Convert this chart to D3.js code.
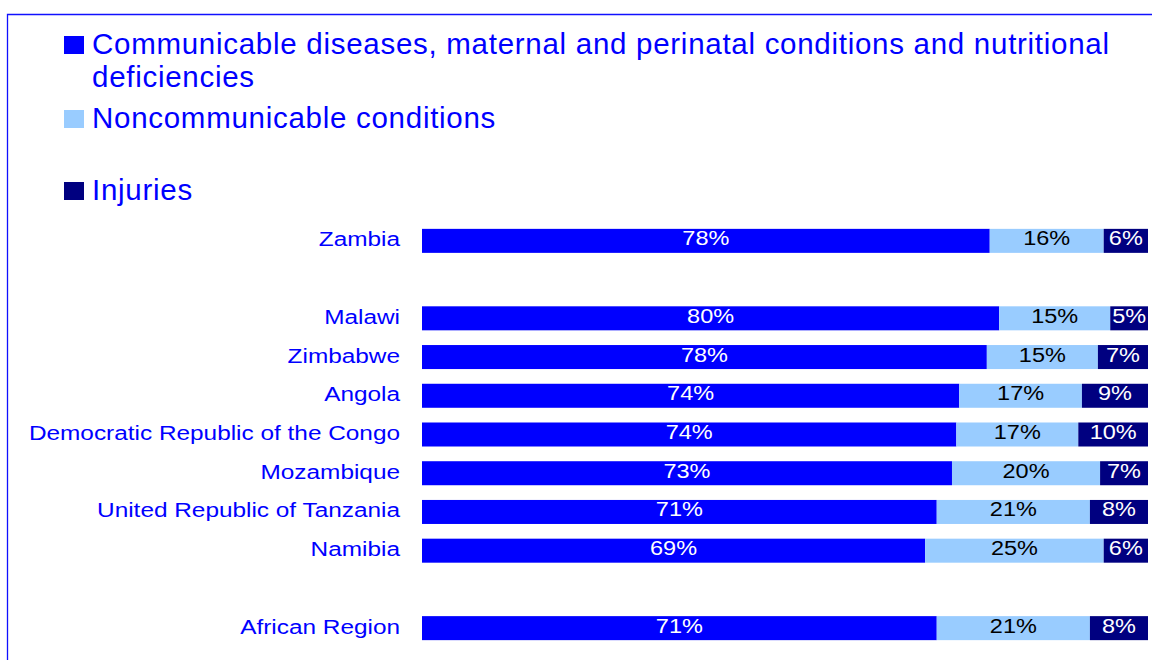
<!DOCTYPE html>
<html>
<head>
<meta charset="utf-8">
<script src="https://cdn.jsdelivr.net/npm/d3@7"></script>
<style>
  html, body { margin: 0; padding: 0; background: #fff; }
  svg { display: block; font-family: "Liberation Sans", Arial, sans-serif; }
</style>
</head>
<body>
<div id="chart"></div>
<script>
// rows of the chart, null = empty gap row
const categories = ["Zambia", null, "Malawi", "Zimbabwe", "Angola",
  "Democratic Republic of the Congo", "Mozambique", "United Republic of Tanzania",
  "Namibia", null, "African Region"];

// share of deaths (%) per cause
const communicable    = [78.2, null, 79.5, 77.8, 74.0, 73.6, 73.0, 70.9, 69.3, null, 70.9];
const noncommunicable = [15.7, null, 15.3, 15.3, 16.9, 16.8, 20.4, 21.1, 24.6, null, 21.1];
const injuries        = [6.1,  null, 5.2,  6.9,  9.1,  9.6,  6.6,  8.0,  6.1,  null, 8.0];

const legendLines = [
  ["Communicable diseases, maternal and perinatal conditions and nutritional", "deficiencies"],
  ["Noncommunicable conditions"],
  ["Injuries"]
];

const WIDTH = 1152, HEIGHT = 660;
const COLORS = ["#0000FF", "#99CCFF", "#000080"];
const LABEL_COLORS = ["#FFFFFF", "#000000", "#FFFFFF"];
const TEXT_BLUE = "#0000FF";

const svg = d3.select("#chart").append("svg")
  .attr("width", WIDTH)
  .attr("height", HEIGHT);

// frame (top and left edge visible)
svg.append("path")
  .attr("d", "M7.5,660V14.5H1152")
  .attr("fill", "none")
  .attr("stroke", "#1010FF")
  .attr("stroke-width", 1.3);

// Legend
const legendY = [36, 110, 182];
const legend = svg.append("g");
legendLines.forEach((lines, i) => {
  legend.append("rect")
    .attr("x", 64).attr("y", legendY[i])
    .attr("width", 20).attr("height", 18)
    .attr("fill", COLORS[i]);
  const t = legend.append("text")
    .attr("x", 92)
    .attr("y", legendY[i] + 17.5)
    .attr("font-size", 29.5)
    .attr("letter-spacing", 0.72)
    .attr("fill", TEXT_BLUE);
  lines.forEach((line, j) => {
    t.append("tspan").attr("x", 92).attr("dy", j === 0 ? 0 : 33).text(line);
  });
});

// Scales
const y = d3.scaleBand()
  .domain(d3.range(categories.length))
  .range([221.5, 647.5])
  .paddingInner(0.38)
  .paddingOuter(0.19);

const x = d3.scaleLinear().domain([0, 100]).range([422, 1148]);

// stack the three series per row
const rows = categories.map((c, i) => ({
  i, name: c, values: [communicable[i], noncommunicable[i], injuries[i]]
})).filter(d => d.name !== null);

const fmt = d => d3.format(".0f")(d) + "%";

// Category labels (text is horizontally stretched in the original)
svg.append("g").selectAll("g")
  .data(rows)
  .join("g")
  .attr("transform", d => `translate(400,${y(d.i) + y.bandwidth() / 2 + 5.5}) scale(1.25,1)`)
  .append("text")
  .attr("text-anchor", "end")
  .attr("font-size", 19.5)
  .attr("fill", TEXT_BLUE)
  .text(d => d.name);

// Bars
const rowG = svg.append("g").selectAll("g")
  .data(rows)
  .join("g")
  .attr("transform", d => `translate(0,${y(d.i)})`);

const segs = rowG.selectAll("g")
  .data(d => {
    let acc = 0;
    return d.values.map((v, k) => {
      const s = {k, v, x0: acc, x1: acc + v};
      acc += v;
      return s;
    });
  })
  .join("g");

segs.append("rect")
  .attr("x", s => x(s.x0))
  .attr("width", s => x(s.x1) - x(s.x0))
  .attr("height", y.bandwidth())
  .attr("fill", s => COLORS[s.k]);

segs.append("g")
  .attr("transform", s => `translate(${(x(s.x0) + x(s.x1)) / 2},${y.bandwidth() / 2 + 4.5}) scale(1.12,1)`)
  .append("text")
  .attr("text-anchor", "middle")
  .attr("font-size", 21)
  .attr("fill", s => LABEL_COLORS[s.k])
  .text(s => fmt(s.v));
</script>
</body>
</html>
